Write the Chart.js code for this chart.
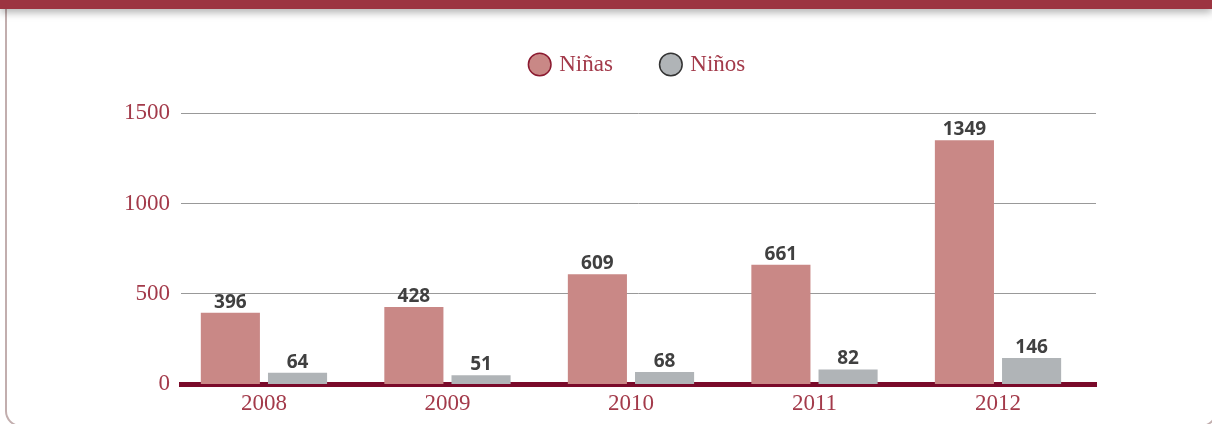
<!DOCTYPE html>
<html>
<head>
<meta charset="utf-8">
<script src="https://cdn.jsdelivr.net/npm/chart.js@4/dist/chart.umd.min.js"></script>
<style>
  html, body { margin: 0; padding: 0; background: #fff; overflow: hidden; }
  #frame {
    position: absolute; left: 5px; top: 0; width: 1212px; height: 427px;
    border: 2px solid #c2aeae; border-top: none; border-radius: 0 0 16px 16px;
    box-sizing: border-box;
  }
  #topbar {
    position: absolute; left: 0; top: 0; width: 1212px; height: 9px;
    background: #9c3441; box-shadow: 0 3px 8px rgba(0,0,0,0.35);
  }
  #wrap { position: absolute; left: 0; top: 0; width: 1212px; height: 424px; }
</style>
</head>
<body>
<div id="frame"></div>
<div id="topbar"></div>
<div id="wrap"><canvas id="chart" width="1212" height="424"></canvas></div>
<script>
// data
const years = ["2008", "2009", "2010", "2011", "2012"];
const ninas = [396, 428, 609, 661, 1349];
const ninos = [64, 51, 68, 82, 146];
const yTicks = [0, 500, 1000, 1500];

const red = "#a33a4a";
const serif = "'Liberation Serif', serif";

// value labels above each bar
const barLabels = {
  id: "barLabels",
  afterDatasetsDraw(chart) {
    const ctx = chart.ctx;
    ctx.save();
    ctx.font = "bold 19px 'Open Sans'";
    ctx.fillStyle = "#404040";
    ctx.textAlign = "center";
    ctx.textBaseline = "bottom";
    chart.data.datasets.forEach((ds, i) => {
      chart.getDatasetMeta(i).data.forEach((bar, j) => {
        ctx.fillText(ds.data[j], bar.x, bar.y - 1);
      });
    });
    ctx.restore();
  }
};

// extra room under the legend
const legendGap = {
  id: "legendGap",
  beforeInit(chart) {
    const fit = chart.legend.fit;
    chart.legend.fit = function () {
      fit.call(this);
      this.height += 27;
    };
  }
};

new Chart(document.getElementById("chart"), {
  type: "bar",
  data: {
    labels: years,
    datasets: [
      { label: "Niñas", data: ninas, backgroundColor: "#c98886", borderColor: "#8b1a30", borderWidth: 0 },
      { label: "Niños", data: ninos, backgroundColor: "#b0b4b7", borderColor: "#333333", borderWidth: 0 }
    ]
  },
  options: {
    responsive: false,
    animation: false,
    devicePixelRatio: 1,
    categoryPercentage: 0.732,
    barPercentage: 0.88,
    layout: { padding: { top: 3, right: 116, left: 0, bottom: 0 } },
    plugins: {
      tooltip: { enabled: false },
      legend: {
        position: "top",
        fullSize: false,
        labels: {
          usePointStyle: true,
          pointStyle: "circle",
          boxWidth: 16,
          boxHeight: 16,
          padding: 50,
          color: red,
          font: { family: serif, size: 23 },
          generateLabels(chart) {
            return chart.data.datasets.map((ds, i) => ({
              text: ds.label,
              fillStyle: ds.backgroundColor,
              strokeStyle: ds.borderColor,
              lineWidth: 1.5,
              pointStyle: "circle",
              fontColor: red,
              datasetIndex: i
            }));
          }
        }
      }
    },
    scales: {
      x: {
        type: "linear",
        offset: false,
        min: 2007.548,
        max: 2012.534,
        afterBuildTicks(scale) { scale.ticks = years.map(y => ({ value: Number(y) })); },
        grid: { display: false, drawTicks: false, offset: false },
        border: { display: true, color: "#7a0a2a", width: 5 },
        ticks: { color: red, padding: 6, callback: v => String(v), font: { family: serif, size: 23 } }
      },
      y: {
        min: 0, max: 1500,
        afterFit(scale) { scale.width = 181; },
        afterBuildTicks(scale) { scale.ticks = yTicks.map(v => ({ value: v })); },
        grid: { color: "#999999", lineWidth: 1, drawTicks: false },
        border: { display: false },
        ticks: { color: red, padding: 11, callback: v => String(v), font: { family: serif, size: 23 } }
      }
    }
  },
  plugins: [barLabels, legendGap]
});
</script>
</body>
</html>
